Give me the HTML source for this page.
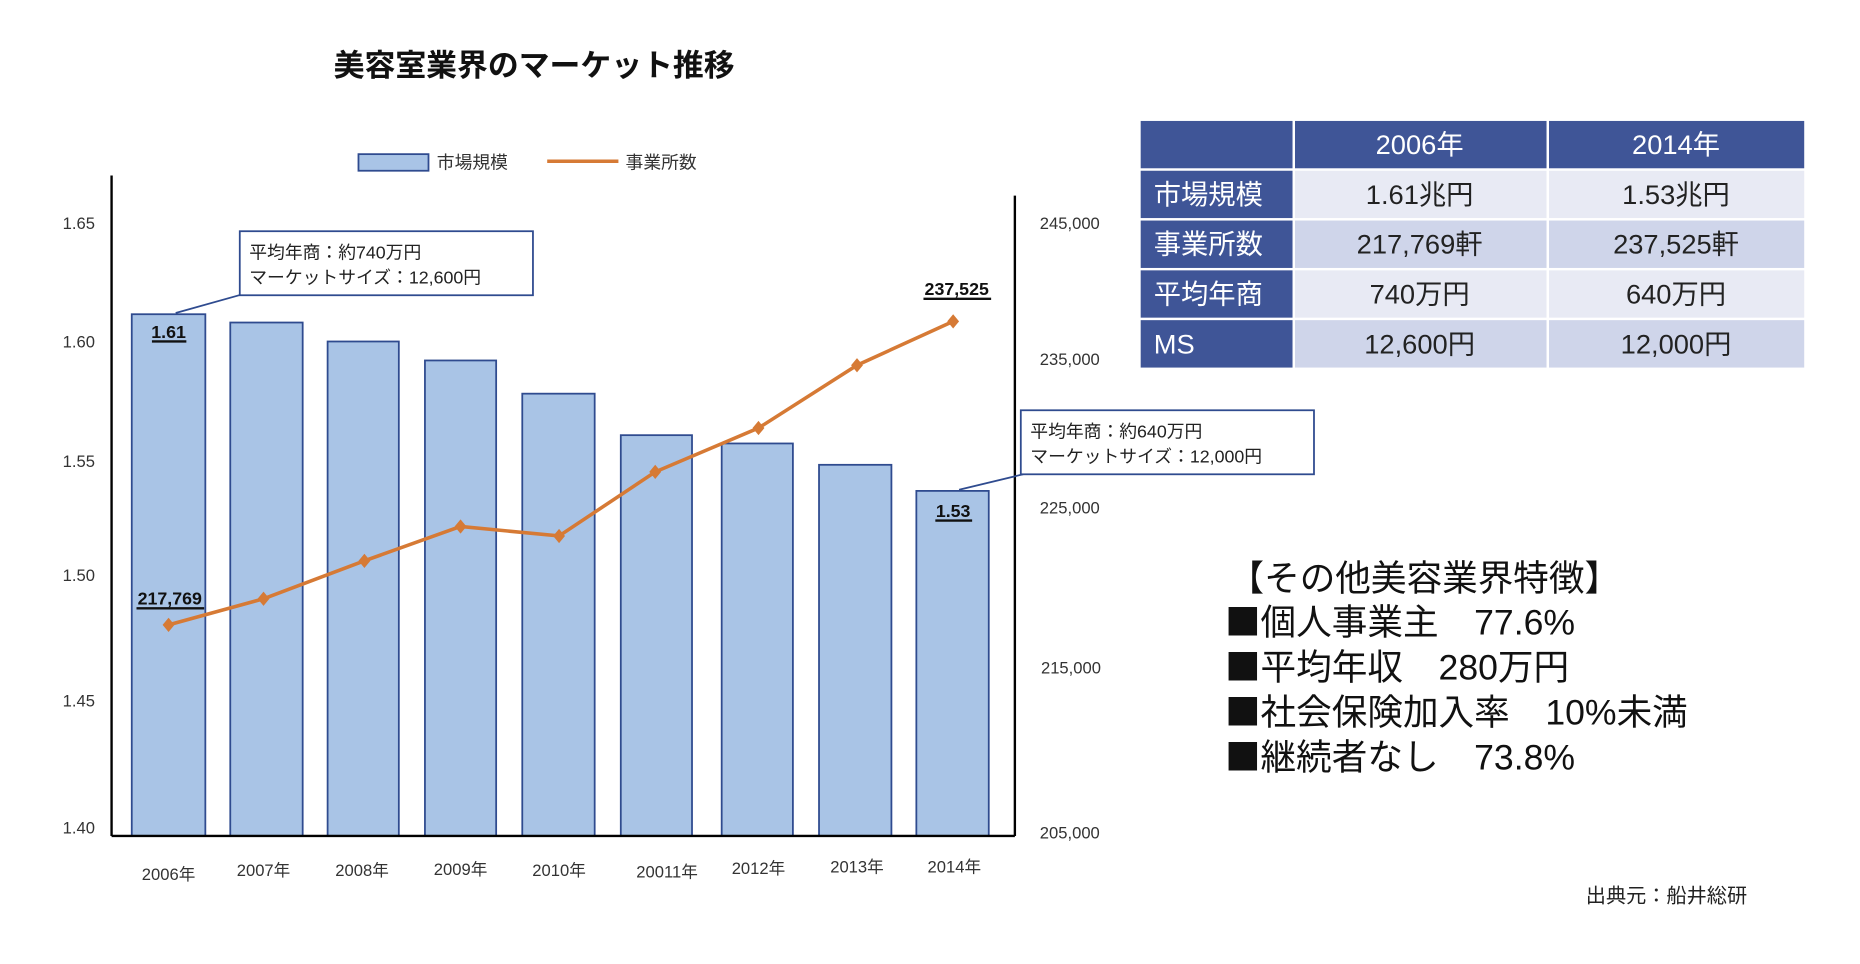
<!DOCTYPE html>
<html><head><meta charset="utf-8"><style>
html,body{margin:0;padding:0;background:#fff;}
svg{display:block;}
text{font-family:"Liberation Sans","Noto Sans CJK JP",sans-serif;}
.sq{font-family:"Noto Sans CJK JP",sans-serif;}
</style></head><body>
<svg width="1860" height="964" viewBox="0 0 1567 813" preserveAspectRatio="none" xmlns="http://www.w3.org/2000/svg">
<rect width="1567" height="813" fill="#fff"/>
<text x="450" y="64" font-size="26" font-weight="bold" text-anchor="middle" fill="#111">美容室業界のマーケット推移</text>
<rect x="302" y="130" width="59" height="14" fill="#a9c4e6" stroke="#2f4b8f" stroke-width="1.5"/>
<text x="368" y="142" font-size="15" fill="#333">市場規模</text>
<line x1="461" y1="136" x2="521" y2="136" stroke="#d67a35" stroke-width="3"/>
<text x="527" y="142" font-size="15" fill="#333">事業所数</text>
<line x1="94" y1="148" x2="94" y2="705" stroke="#000" stroke-width="2"/>
<line x1="855" y1="165" x2="855" y2="705" stroke="#000" stroke-width="2"/>
<g font-size="14" fill="#333" text-anchor="end">
<text x="80" y="193">1.65</text><text x="80" y="293">1.60</text><text x="80" y="394">1.55</text>
<text x="80" y="490">1.50</text><text x="80" y="596">1.45</text><text x="80" y="703">1.40</text>
</g>
<g font-size="14" fill="#333">
<text x="876" y="193">245,000</text><text x="876" y="308">235,000</text><text x="876" y="433">225,000</text>
<text x="877" y="568">215,000</text><text x="876" y="707">205,000</text>
</g>
<g fill="#a9c4e6" stroke="#2f4b8f" stroke-width="1.5">
<rect x="111" y="265" width="62" height="440"/>
<rect x="194" y="272" width="61" height="433"/>
<rect x="276" y="288" width="60" height="417"/>
<rect x="358" y="304" width="60" height="401"/>
<rect x="440" y="332" width="61" height="373"/>
<rect x="523" y="367" width="60" height="338"/>
<rect x="608" y="374" width="60" height="331"/>
<rect x="690" y="392" width="61" height="313"/>
<rect x="772" y="414" width="61" height="291"/>
</g>
<line x1="94" y1="705" x2="855" y2="705" stroke="#000" stroke-width="2"/>
<polyline points="142,527 222,505 307,473 388,444 471,452 552,398 639,361 722,308 803,271" fill="none" stroke="#d67a35" stroke-width="3"/>
<g fill="#d67a35">
<path d="M142,521 l5,6 l-5,6 l-5,-6z"/><path d="M222,499 l5,6 l-5,6 l-5,-6z"/><path d="M307,467 l5,6 l-5,6 l-5,-6z"/>
<path d="M388,438 l5,6 l-5,6 l-5,-6z"/><path d="M471,446 l5,6 l-5,6 l-5,-6z"/><path d="M552,392 l5,6 l-5,6 l-5,-6z"/>
<path d="M639,355 l5,6 l-5,6 l-5,-6z"/><path d="M722,302 l5,6 l-5,6 l-5,-6z"/><path d="M803,265 l5,6 l-5,6 l-5,-6z"/>
</g>
<g font-size="14" fill="#333" text-anchor="middle">
<text x="142" y="742">2006年</text><text x="222" y="739">2007年</text><text x="305" y="739">2008年</text>
<text x="388" y="738">2009年</text><text x="471" y="739">2010年</text><text x="562" y="740">20011年</text>
<text x="639" y="737">2012年</text><text x="722" y="736">2013年</text><text x="804" y="736">2014年</text>
</g>
<g font-size="15" font-weight="bold" fill="#111" text-anchor="middle">
<text x="142" y="285">1.61</text><text x="143" y="510">217,769</text>
<text x="806" y="249">237,525</text><text x="803" y="436">1.53</text>
</g>
<line x1="128" y1="288" x2="157" y2="288" stroke="#111" stroke-width="2"/>
<line x1="115" y1="513" x2="172" y2="513" stroke="#111" stroke-width="2"/>
<line x1="778" y1="252" x2="835" y2="252" stroke="#111" stroke-width="2"/>
<line x1="788" y1="439" x2="819" y2="439" stroke="#111" stroke-width="2"/>
<line x1="148" y1="264" x2="205" y2="248" stroke="#2f4b8f" stroke-width="1.5"/>
<rect x="202" y="195" width="247" height="54" fill="#fff" stroke="#2f4b8f" stroke-width="1.5"/>
<text x="210" y="218" font-size="15" fill="#222">平均年商：約740万円</text>
<text x="210" y="239" font-size="15" fill="#222">マーケットサイズ：12,600円</text>
<line x1="808" y1="413" x2="862" y2="400" stroke="#2f4b8f" stroke-width="1.5"/>
<rect x="860" y="346" width="247" height="54" fill="#fff" stroke="#2f4b8f" stroke-width="1.5"/>
<text x="868" y="369" font-size="15" fill="#222">平均年商：約640万円</text>
<text x="868" y="390" font-size="15" fill="#222">マーケットサイズ：12,000円</text>
<g stroke="#fff" stroke-width="2">
<rect x="960" y="101" width="130" height="42" fill="#3f5597"/>
<rect x="1090" y="101" width="214" height="42" fill="#3f5597"/>
<rect x="1304" y="101" width="217" height="42" fill="#3f5597"/>
<rect x="960" y="143" width="130" height="42" fill="#3f5597"/>
<rect x="1090" y="143" width="214" height="42" fill="#e8eaf4"/>
<rect x="1304" y="143" width="217" height="42" fill="#e8eaf4"/>
<rect x="960" y="185" width="130" height="42" fill="#3f5597"/>
<rect x="1090" y="185" width="214" height="42" fill="#cfd5ea"/>
<rect x="1304" y="185" width="217" height="42" fill="#cfd5ea"/>
<rect x="960" y="227" width="130" height="42" fill="#3f5597"/>
<rect x="1090" y="227" width="214" height="42" fill="#e8eaf4"/>
<rect x="1304" y="227" width="217" height="42" fill="#e8eaf4"/>
<rect x="960" y="269" width="130" height="42" fill="#3f5597"/>
<rect x="1090" y="269" width="214" height="42" fill="#cfd5ea"/>
<rect x="1304" y="269" width="217" height="42" fill="#cfd5ea"/>
</g>
<g font-size="23" fill="#fff">
<text x="1196" y="130" text-anchor="middle">2006年</text><text x="1412" y="130" text-anchor="middle">2014年</text>
<text x="972" y="172">市場規模</text><text x="972" y="214">事業所数</text>
<text x="972" y="256">平均年商</text><text x="972" y="298">MS</text>
</g>
<g font-size="23" fill="#222" text-anchor="middle">
<text x="1196" y="172">1.61兆円</text><text x="1412" y="172">1.53兆円</text>
<text x="1196" y="214">217,769軒</text><text x="1412" y="214">237,525軒</text>
<text x="1196" y="256">740万円</text><text x="1412" y="256">640万円</text>
<text x="1196" y="298">12,600円</text><text x="1412" y="298">12,000円</text>
</g>
<g font-size="30" fill="#111">
<text x="1035" y="498">【その他美容業界特徴】</text>
<text x="1032" y="535"><tspan class="sq">■</tspan>個人事業主　77.6%</text>
<text x="1032" y="573"><tspan class="sq">■</tspan>平均年収　280万円</text>
<text x="1032" y="611"><tspan class="sq">■</tspan>社会保険加入率　10%未満</text>
<text x="1032" y="649"><tspan class="sq">■</tspan>継続者なし　73.8%</text>
</g>
<text x="1336" y="761" font-size="17" fill="#222">出典元：船井総研</text>
</svg>
</body></html>
